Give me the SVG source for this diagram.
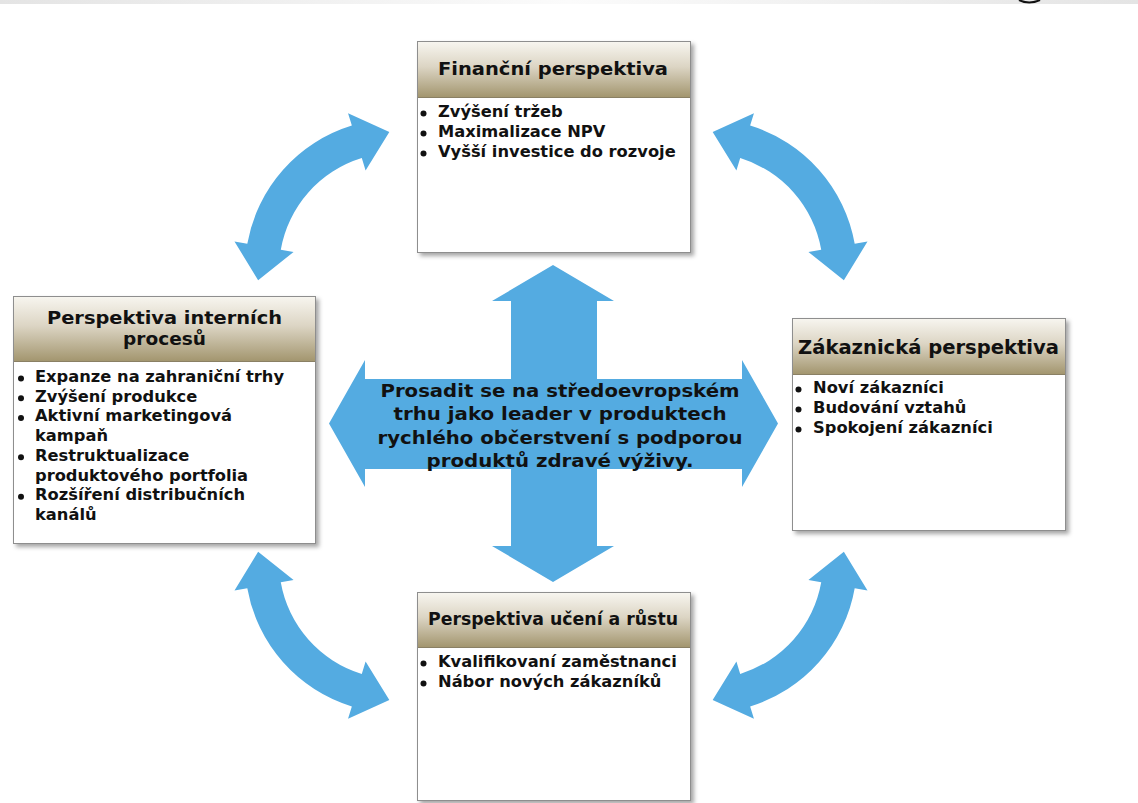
<svg xmlns="http://www.w3.org/2000/svg" width="1138" height="803" viewBox="0 0 1138 803">
  <defs>
    <linearGradient id="hdr" x1="0" y1="0" x2="0" y2="1">
      <stop offset="0" stop-color="#f7f5ef"/>
      <stop offset="0.45" stop-color="#dcd5c4"/>
      <stop offset="1" stop-color="#a3966f"/>
    </linearGradient>
    <linearGradient id="band" x1="0" y1="0" x2="1" y2="0">
      <stop offset="0" stop-color="#e4e4e4"/>
      <stop offset="0.5" stop-color="#fbfbfb"/>
      <stop offset="1" stop-color="#e4e4e4"/>
    </linearGradient>
    <filter id="shadow" x="-10%" y="-10%" width="125%" height="125%">
      <feDropShadow dx="3" dy="3" stdDeviation="2" flood-color="#000" flood-opacity="0.35"/>
    </filter>
    <!-- one curved double arrow, drawn around its own pivot at the origin -->
    <path id="arc-arrow" d="M-137.86 10.21 L-161.51 -28.47 L-148.70 -26.21 A151 151 0 0 1 -44.15 -144.40 L-47.95 -156.83 L-6.67 -138.08 L-30.41 -99.46 L-34.21 -111.89 A117 117 0 0 0 -115.22 -20.31 L-102.42 -18.05 Z"/>
  </defs>
  <style>
    .box { fill: #ffffff; stroke: #8e8e8e; stroke-width: 1; }
    .head { fill: url(#hdr); }
    .rule { stroke: #8a8064; stroke-width: 1; }
    .title { font-family: "DejaVu Sans", Verdana, sans-serif; font-weight: bold; fill: #111; text-anchor: middle; }
    .item { font-family: "DejaVu Sans", Verdana, sans-serif; font-weight: bold; font-size: 16.3px; fill: #111; }
    .dot { fill: #111; }
    .blue { fill: #54abe1; }
    .goal { font-family: "DejaVu Sans", Verdana, sans-serif; font-weight: bold; font-size: 18px; fill: #111; text-anchor: middle; }
  </style>

  <!-- thin band along the top edge -->
  <rect x="0" y="0" width="1138" height="4" fill="url(#band)"/>
  <path d="M1019 0 Q1029 5 1040 0" fill="none" stroke="#111" stroke-width="2"/>

  <g id="connectors">
    <!-- curved links between neighbouring perspectives -->
    <use href="#arc-arrow" class="blue" transform="translate(396 270)"/>
    <use href="#arc-arrow" class="blue" transform="translate(706 270) scale(-1 1)"/>
    <use href="#arc-arrow" class="blue" transform="translate(396 562) scale(1 -1)"/>
    <use href="#arc-arrow" class="blue" transform="translate(706 562) scale(-1 -1)"/>
  </g>

  <g id="goal">
    <path class="blue" d="M553 265 L614 301 L597 301 L597 379 L742 379 L742 360 L778 423.5 L742 487 L742 469 L597 469 L597 546 L614 546 L553 582 L492 546 L511 546 L511 469 L365 469 L365 487 L329 423.5 L365 360 L365 379 L511 379 L511 301 L492 301 Z"/>
    <text class="goal" x="560" y="397" textLength="359" lengthAdjust="spacingAndGlyphs">Prosadit se na středoevropském</text>
    <text class="goal" x="560" y="420" textLength="333" lengthAdjust="spacingAndGlyphs">trhu jako leader v produktech</text>
    <text class="goal" x="560" y="444" textLength="365" lengthAdjust="spacingAndGlyphs">rychlého občerstvení s podporou</text>
    <text class="goal" x="560" y="467" textLength="267" lengthAdjust="spacingAndGlyphs">produktů zdravé výživy.</text>
  </g>

  <g id="financial">
    <rect class="box" x="417.5" y="41.5" width="273" height="211" filter="url(#shadow)"/>
    <rect class="head" x="418" y="42" width="272" height="55"/>
    <line class="rule" x1="418" y1="97.5" x2="690" y2="97.5"/>
    <text class="title" x="553" y="75" font-size="18.5" textLength="230" lengthAdjust="spacingAndGlyphs">Finanční perspektiva</text>
    <circle class="dot" cx="423.5" cy="113.5" r="3"/>
    <text class="item" x="438" y="117">Zvýšení tržeb</text>
    <circle class="dot" cx="423.5" cy="133.5" r="3"/>
    <text class="item" x="438" y="137">Maximalizace NPV</text>
    <circle class="dot" cx="423.5" cy="153.5" r="3"/>
    <text class="item" x="438" y="157">Vyšší investice do rozvoje</text>
  </g>

  <g id="internal">
    <rect class="box" x="13.5" y="296.5" width="302" height="247" filter="url(#shadow)"/>
    <rect class="head" x="14" y="297" width="301" height="64"/>
    <line class="rule" x1="14" y1="361.5" x2="315" y2="361.5"/>
    <text class="title" x="164.5" y="324" font-size="18.5" textLength="235" lengthAdjust="spacingAndGlyphs">Perspektiva interních</text>
    <text class="title" x="164.5" y="345" font-size="18.5">procesů</text>
    <circle class="dot" cx="21" cy="378.5" r="3"/>
    <text class="item" x="35" y="382">Expanze na zahraniční trhy</text>
    <circle class="dot" cx="21" cy="398.2" r="3"/>
    <text class="item" x="35" y="401.7">Zvýšení produkce</text>
    <circle class="dot" cx="21" cy="417.9" r="3"/>
    <text class="item" x="35" y="421.4">Aktivní marketingová</text>
    <text class="item" x="35" y="441.1">kampaň</text>
    <circle class="dot" cx="21" cy="457.3" r="3"/>
    <text class="item" x="35" y="460.8">Restruktualizace</text>
    <text class="item" x="35" y="480.5">produktového portfolia</text>
    <circle class="dot" cx="21" cy="496.7" r="3"/>
    <text class="item" x="35" y="500.2">Rozšíření distribučních</text>
    <text class="item" x="35" y="519.9">kanálů</text>
  </g>

  <g id="customer">
    <rect class="box" x="792.5" y="318.5" width="273" height="212" filter="url(#shadow)"/>
    <rect class="head" x="793" y="319" width="272" height="55"/>
    <line class="rule" x1="793" y1="374.5" x2="1065" y2="374.5"/>
    <text class="title" x="928.5" y="354" font-size="19" textLength="261" lengthAdjust="spacingAndGlyphs">Zákaznická perspektiva</text>
    <circle class="dot" cx="798.5" cy="389.5" r="3"/>
    <text class="item" x="813" y="393">Noví zákazníci</text>
    <circle class="dot" cx="798.5" cy="409.5" r="3"/>
    <text class="item" x="813" y="413">Budování vztahů</text>
    <circle class="dot" cx="798.5" cy="429.5" r="3"/>
    <text class="item" x="813" y="433">Spokojení zákazníci</text>
  </g>

  <g id="learning">
    <rect class="box" x="417.5" y="592.5" width="273" height="208" filter="url(#shadow)"/>
    <rect class="head" x="418" y="593" width="272" height="54"/>
    <line class="rule" x1="418" y1="647.5" x2="690" y2="647.5"/>
    <text class="title" x="553" y="625" font-size="17" textLength="250" lengthAdjust="spacingAndGlyphs">Perspektiva učení a růstu</text>
    <circle class="dot" cx="423.5" cy="663.5" r="3"/>
    <text class="item" x="438" y="667">Kvalifikovaní zaměstnanci</text>
    <circle class="dot" cx="423.5" cy="683.5" r="3"/>
    <text class="item" x="438" y="687">Nábor nových zákazníků</text>
  </g>
</svg>
